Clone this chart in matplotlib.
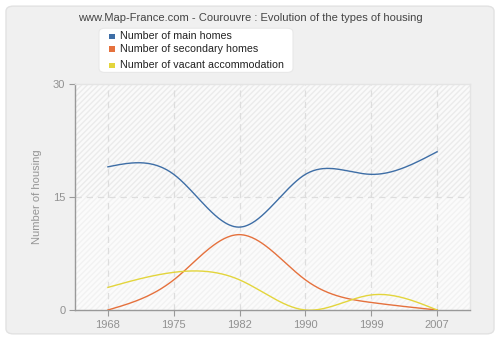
import numpy as np
import matplotlib
matplotlib.use("Agg")
import matplotlib.pyplot as plt
from matplotlib.patches import FancyBboxPatch, Rectangle

plt.rcParams["font.family"] = ["Liberation Sans", "DejaVu Sans"]

years = ["1968", "1975", "1982", "1990", "1999", "2007"]
main_homes = [19, 18, 11, 18, 18, 21]
secondary_homes = [0, 4, 10, 4, 1, 0]
vacant = [3, 5, 4, 0, 2, 0]

labels = ["Number of main homes", "Number of secondary homes", "Number of vacant accommodation"]
colors = ["#3e6ea6", "#e5713d", "#e3d53c"]


def natural_spline(x, y, n=60):
    x = np.asarray(x, float)
    y = np.asarray(y, float)
    k = len(x)
    h = np.diff(x)
    A = np.zeros((k, k))
    b = np.zeros(k)
    A[0, 0] = A[-1, -1] = 1
    for i in range(1, k - 1):
        A[i, i - 1] = h[i - 1]
        A[i, i] = 2 * (h[i - 1] + h[i])
        A[i, i + 1] = h[i]
        b[i] = 6 * ((y[i + 1] - y[i]) / h[i] - (y[i] - y[i - 1]) / h[i - 1])
    M = np.linalg.solve(A, b)
    xs, ys = [], []
    for i in range(k - 1):
        t = np.linspace(x[i], x[i + 1], n)
        a = (x[i + 1] - t) / h[i]
        c = (t - x[i]) / h[i]
        s = (a * y[i] + c * y[i + 1]
             + ((a ** 3 - a) * M[i] + (c ** 3 - c) * M[i + 1]) * h[i] ** 2 / 6)
        xs.append(t)
        ys.append(s)
    return np.concatenate(xs), np.concatenate(ys)


fig = plt.figure(figsize=(5, 3.4), dpi=100)
fig.patch.set_facecolor("white")
bg = FancyBboxPatch((0.012, 0.018), 0.976, 0.964, boxstyle="round,pad=0,rounding_size=0.015",
                    transform=fig.transFigure, facecolor="#f0f0f0", edgecolor="#e2e2e2",
                    linewidth=1.0, zorder=-10)
fig.patches.append(bg)

ax = fig.add_axes([0.15, 0.0882, 0.79, 0.665])
ax.set_zorder(1)
ax.set_facecolor("#fbfbfb")
ax.set_xlim(-0.5, len(years) - 0.5)
ax.set_ylim(0, 30)

# hatched backdrop, stronger in the upper band
ax.add_patch(Rectangle((-0.5, 15), len(years), 15, facecolor="#fafafa",
                       edgecolor="#ebebeb", hatch="//////", linewidth=0, zorder=0))
ax.add_patch(Rectangle((-0.5, 0), len(years), 15, facecolor="#fbfbfb",
                       edgecolor="#f2f2f2", hatch="//////", linewidth=0, zorder=0))

xi = np.arange(len(years))
for i in xi:
    ax.axvline(i, color="#dddddd", linestyle=(0, (5, 4)), linewidth=0.9, zorder=1)
ax.axhline(15, color="#dddddd", linestyle=(0, (5, 4)), linewidth=0.9, zorder=1)

for vals, col in zip([main_homes, secondary_homes, vacant], colors):
    sx, sy = natural_spline(xi, vals)
    ax.plot(sx, sy, color=col, linewidth=1.0, zorder=3, clip_on=True)

ax.set_xticks(xi)
ax.set_xticklabels(years)
ax.set_yticks([0, 15, 30])
ax.tick_params(axis="both", colors="#999999", labelcolor="#919191", labelsize=8,
               length=4, width=0.8)
ax.tick_params(axis="y", pad=3)
for side in ["left", "bottom"]:
    ax.spines[side].set_color("#999999")
    ax.spines[side].set_linewidth(1.0)
for side in ["top", "right"]:
    ax.spines[side].set_color("#e4e4e4")
    ax.spines[side].set_linewidth(1.0)
ax.set_ylabel("Number of housing", color="#959595", fontsize=8, labelpad=8)

fig.text(0.5, 0.948, "www.Map-France.com - Courouvre : Evolution of the types of housing",
         ha="center", va="center", fontsize=8, color="#444444")

# legend box
leg = FancyBboxPatch((0.198, 0.787), 0.388, 0.13, boxstyle="round,pad=0,rounding_size=0.012",
                     transform=fig.transFigure, facecolor="white", edgecolor="#e8e8e8",
                     linewidth=0.8, zorder=5)
fig.patches.append(leg)
ys_leg = [0.894, 0.857, 0.808]
for y, lab, col in zip(ys_leg, labels, colors):
    fig.patches.append(Rectangle((0.218, y - 0.009), 0.011, 0.016, transform=fig.transFigure,
                                 facecolor=col, edgecolor="none", zorder=6))
    fig.text(0.24, y, lab, ha="left", va="center", fontsize=7.7, color="#222222", zorder=6)

fig.savefig("out.png", dpi=100, facecolor=fig.get_facecolor())
